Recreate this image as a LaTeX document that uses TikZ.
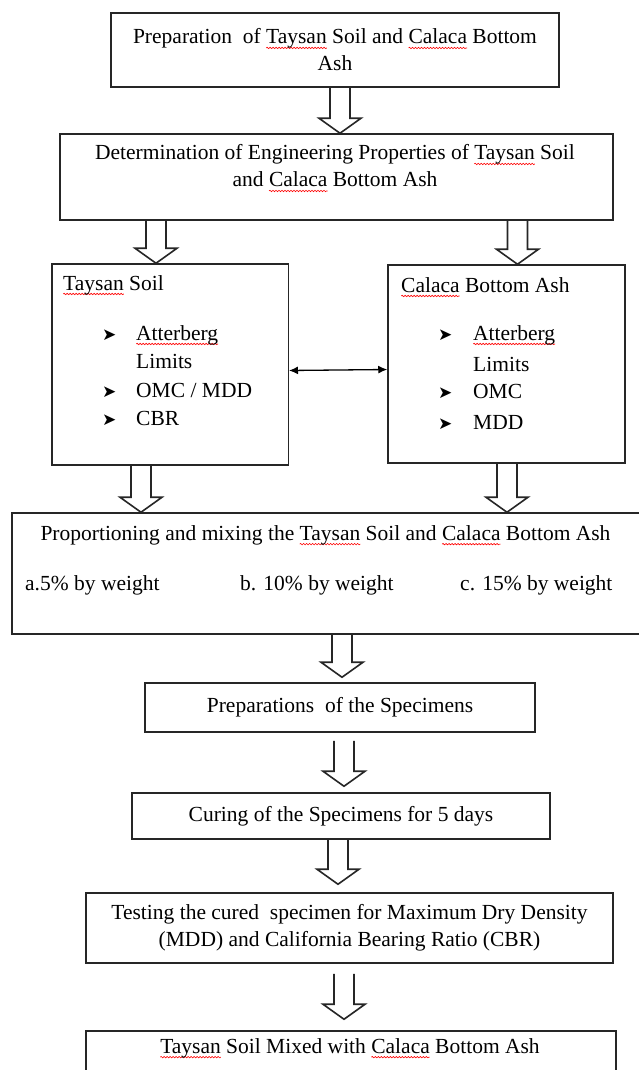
\documentclass[tikz,border=0pt]{standalone}
\usepackage{fontspec}
\setmainfont{Liberation Serif}
\newfontfamily\dingfont{DejaVu Sans}
\usetikzlibrary{shapes,arrows,arrows.meta,calc,decorations.pathmorphing}

\tikzset{
  box/.style = {draw = black!85, line width = 1.5pt, inner sep = 0pt, align = center},
  txt/.style = {inner sep = 0pt, align = center},
  entry/.style = {inner sep = 0pt, anchor = west, text height = 15pt, text depth = 5pt},
  bigarrow/.style = {draw = black!85, line width = 1.6pt, line join = miter},
}

\newsavebox\spellbox
\newcommand{\spell}[1]{\sbox\spellbox{#1}{\tikz[overlay, baseline=0pt] \draw [red, line width=0.6pt, decorate, decoration={snake, amplitude=0.7pt, segment length=3pt}] (0pt, -4pt) -- (\wd\spellbox, -4pt);}\usebox\spellbox}
\newcommand{\itemarrow}{{\dingfont\fontsize{17}{17}\selectfont ➤}}
\newcommand{\hollowarrow}[5]{%
  \draw [bigarrow] let \p1 = (#2.south), \p2 = (#3.north) in
    (#1 - 10, \y1 - #4) -- (#1 - 10, \y2 + 15 + #5) -- (#1 - 21, \y2 + 15 + #5)
    -- (#1, \y2 + #5) -- (#1 + 21, \y2 + 15 + #5) -- (#1 + 10, \y2 + 15 + #5)
    -- (#1 + 10, \y1 - #4);}

\begin{document}
\begin{tikzpicture}[x=1pt, y=1pt, >={Latex[length=9pt, width=8pt]}, font=\fontsize{21.5}{27}\selectfont]

\path [use as bounding box, fill=white] (0, 0) rectangle (638, -1070);

\node [box, minimum width=448pt, minimum height=74pt] at (335, -50) (PREP_SOIL) {Preparation\ \ of \spell{Taysan} Soil and \spell{Calaca} Bottom\\Ash};

\node [box, minimum width=553pt, minimum height=86pt] at (336.5, -177) (DET_PROP) {};
\node [txt] at (335, -166) (DET_PROP_TXT) {Determination of Engineering Properties of \spell{Taysan} Soil\\and \spell{Calaca} Bottom Ash};

\node [box, minimum width=236.5pt, minimum height=201pt] at (170, -364.5) (TAYSAN) {};
\node [entry] at (63, -285) (TAYSAN_TITLE) {\spell{Taysan} Soil};
\node [entry] at (102, -335) (TAYSAN_B1) {\itemarrow};
\node [entry] at (136, -335) (TAYSAN_ATT) {\spell{Atterberg}};
\node [entry] at (136, -363) (TAYSAN_LIM) {Limits};
\node [entry] at (102, -392) (TAYSAN_B2) {\itemarrow};
\node [entry] at (136, -392) (TAYSAN_OMC) {OMC / MDD};
\node [entry] at (102, -420) (TAYSAN_B3) {\itemarrow};
\node [entry] at (136, -420) (TAYSAN_CBR) {CBR};

\node [box, minimum width=237pt, minimum height=198pt] at (506.5, -364) (CALACA) {};
\node [entry] at (401, -287) (CALACA_TITLE) {\spell{Calaca} Bottom Ash};
\node [entry] at (438, -335) (CALACA_B1) {\itemarrow};
\node [entry] at (473, -335) (CALACA_ATT) {\spell{Atterberg}};
\node [entry] at (473, -366) (CALACA_LIM) {Limits};
\node [entry] at (438, -393) (CALACA_B2) {\itemarrow};
\node [entry] at (473, -393) (CALACA_OMC) {OMC};
\node [entry] at (438, -424) (CALACA_B3) {\itemarrow};
\node [entry] at (473, -424) (CALACA_MDD) {MDD};

\draw [<->, line width=1.3pt] ($(TAYSAN.east) + (0, -6)$) to ($(CALACA.west) + (0, -5.5)$);

\node [box, minimum width=640pt, minimum height=121pt] at (332, -573.5) (MIX) {};
\node [txt] at (325.5, -535) (MIX_TXT) {Proportioning and mixing the \spell{Taysan} Soil and \spell{Calaca} Bottom Ash};
\node [entry] at (25, -585) (MIX_A) {a.5\% by weight};
\node [entry] at (240, -585) (MIX_B) {b. 10\% by weight};
\node [entry] at (460, -585) (MIX_C) {c. 15\% by weight};

\node [box, minimum width=390pt, minimum height=49pt] at (340, -707.5) (PREP_SPEC) {Preparations\ \ of the Specimens};
\node [box, minimum width=418pt, minimum height=46pt] at (341, -816) (CURING) {Curing of the Specimens for 5 days};
\node [box, minimum width=527pt, minimum height=70pt] at (349.5, -928) (TESTING) {Testing the cured\ \ specimen for Maximum Dry Density\\(MDD) and California Bearing Ratio (CBR)};
\node [box, minimum width=530pt, minimum height=70pt] at (351, -1066) (RESULT) {};
\node [txt] at (350, -1048) (RESULT_TXT) {\spell{Taysan} Soil Mixed with \spell{Calaca} Bottom Ash};

\hollowarrow{340}{PREP_SOIL}{DET_PROP}{0}{0}
\hollowarrow{156}{DET_PROP}{TAYSAN}{0}{0}
\hollowarrow{517.5}{DET_PROP}{CALACA}{0}{0}
\hollowarrow{141}{TAYSAN}{MIX}{0}{0}
\hollowarrow{507}{CALACA}{MIX}{0}{0}
\hollowarrow{342}{MIX}{PREP_SPEC}{0}{5}
\hollowarrow{344}{PREP_SPEC}{CURING}{8}{6}
\hollowarrow{338}{CURING}{TESTING}{0}{8}
\hollowarrow{344}{TESTING}{RESULT}{10}{11}
\end{tikzpicture}
\end{document}
